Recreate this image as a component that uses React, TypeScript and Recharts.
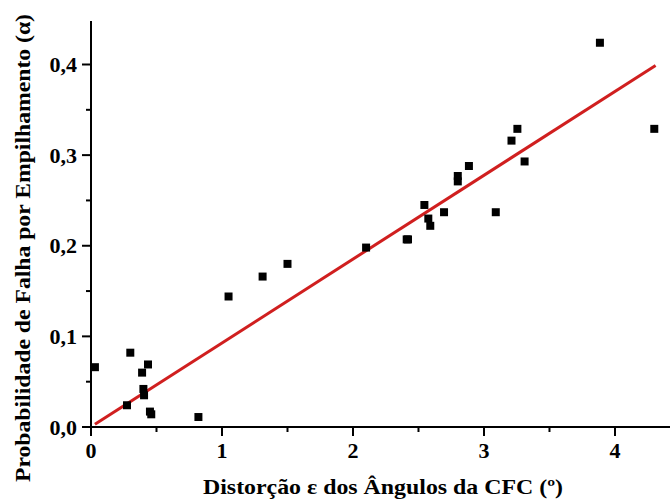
import { Scatter, ScatterChart, XAxis, YAxis, ZAxis } from "recharts";

// measured points: distortion ε (°) vs stacking fault probability α
const distortion = [
  0.03, 0.3, 0.435, 0.39, 0.4, 0.405, 0.275, 0.45, 0.46, 0.82, 1.05, 1.31, 1.5, 2.1,
  2.41, 2.42, 2.545, 2.575, 2.59, 2.695, 2.8, 2.8, 2.885, 3.09, 3.21, 3.255, 3.31,
  3.885, 4.3,
];
const probability = [
  0.066, 0.082, 0.069, 0.06, 0.042, 0.035, 0.024, 0.017, 0.014, 0.011, 0.144, 0.166,
  0.18, 0.198, 0.207, 0.207, 0.245, 0.23, 0.222, 0.237, 0.277, 0.271, 0.288, 0.237,
  0.316, 0.329, 0.293, 0.424, 0.329,
];

// linear fit, end points
const fitDistortion = [0.03, 4.31];
const fitProbability = [0.003, 0.399];

const xTicks = [0, 0.5, 1, 1.5, 2, 2.5, 3, 3.5, 4];
const yTicks = [0, 0.05, 0.1, 0.15, 0.2, 0.25, 0.3, 0.35, 0.4];

const points = distortion.map((x, i) => ({ x, y: probability[i] }));
const fit = fitDistortion.map((x, i) => ({ x, y: fitProbability[i] }));

const FONT = "'Liberation Serif', 'Times New Roman', serif";

function XTick(props: any) {
  const { x, y, payload } = props;
  const v = payload.value as number;
  const major = Number.isInteger(v);
  return (
    <g>
      <line x1={x} x2={x} y1={y} y2={y + (major ? 9 : 5)} stroke="#000" strokeWidth={2} />
      {major && (
        <text
          x={x}
          y={y + 31}
          textAnchor="middle"
          fontFamily={FONT}
          fontWeight="bold"
          fontSize={22}
          fill="#000"
        >
          {v}
        </text>
      )}
    </g>
  );
}

function YTick(props: any) {
  const { x, y, payload } = props;
  const v = payload.value as number;
  const major = Math.round(v * 100) % 10 === 0;
  return (
    <g>
      <line x1={x} x2={x - (major ? 9 : 5)} y1={y} y2={y} stroke="#000" strokeWidth={2} />
      {major && (
        <text
          x={x - 14}
          y={y + 7.5}
          textAnchor="end"
          fontFamily={FONT}
          fontWeight="bold"
          fontSize={22}
          fill="#000"
        >
          {v.toFixed(1).replace(".", ",")}
        </text>
      )}
    </g>
  );
}

export default function App() {
  return (
    <div style={{ position: "absolute", left: 0, top: 0, background: "#fff" }}>
      <ScatterChart width={670} height={501} margin={{ top: 21, right: 0, bottom: 0, left: 0 }}>
        <XAxis
          xAxisId="top"
          orientation="top"
          type="number"
          dataKey="x"
          domain={[0, 4.42]}
          allowDataOverflow
          height={0}
          tick={false}
          tickLine={false}
          axisLine={{ stroke: "#000", strokeWidth: 2 }}
        />
        <XAxis
          type="number"
          dataKey="x"
          domain={[0, 4.42]}
          allowDataOverflow
          ticks={xTicks}
          interval={0}
          height={74}
          tickSize={0}
          tickMargin={0}
          tickLine={false}
          tick={XTick}
          axisLine={{ stroke: "#000", strokeWidth: 2 }}
          label={{
            content: () => (
              <text
                x={203}
                y={494}
                textLength={360}
                lengthAdjust="spacingAndGlyphs"
                fontFamily={FONT}
                fontWeight="bold"
                fontSize={22}
                fill="#000"
              >
                Distorção ε dos Ângulos da CFC (º)
              </text>
            ),
          }}
        />
        <YAxis
          type="number"
          dataKey="y"
          domain={[0, 0.448]}
          allowDataOverflow
          ticks={yTicks}
          interval={0}
          width={91}
          tickSize={0}
          tickMargin={0}
          tickLine={false}
          tick={YTick}
          axisLine={{ stroke: "#000", strokeWidth: 2 }}
          label={{
            content: () => (
              <text
                x={0}
                y={0}
                transform="translate(30, 482) rotate(-90)"
                textLength={468}
                lengthAdjust="spacingAndGlyphs"
                fontFamily={FONT}
                fontWeight="bold"
                fontSize={22}
                fill="#000"
              >
                Probabilidade de Falha por Empilhamento (α)
              </text>
            ),
          }}
        />
        <ZAxis type="number" range={[100, 100]} />
        <Scatter
          data={fit}
          line={{ stroke: "#d01f1f", strokeWidth: 3 }}
          shape={() => <g />}
          isAnimationActive={false}
        />
        <Scatter data={points} fill="#000" shape="square" isAnimationActive={false} />
      </ScatterChart>
    </div>
  );
}
